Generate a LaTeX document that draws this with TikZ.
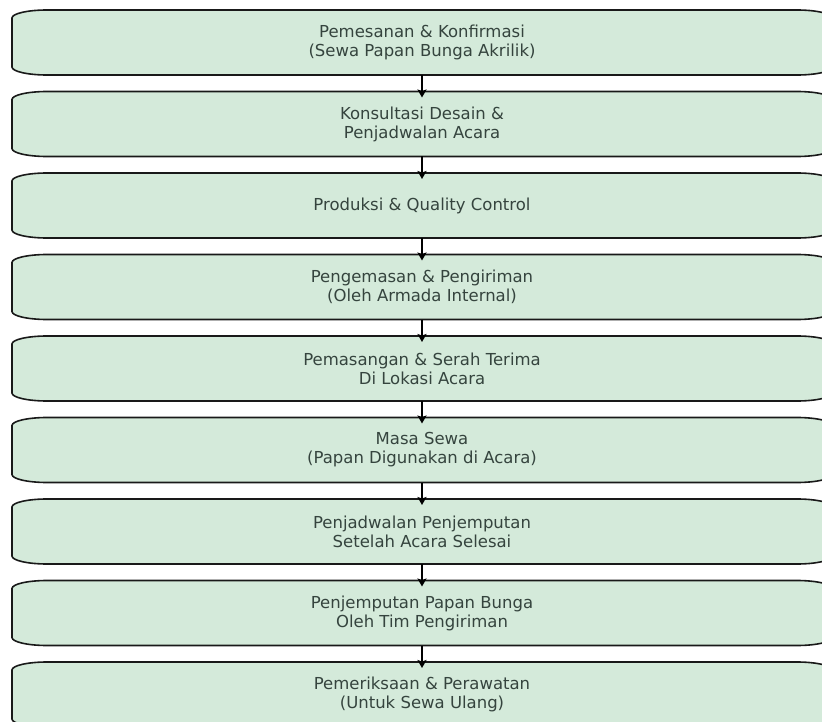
\documentclass[tikz,border=0pt]{standalone}
\usepackage{fontspec}
\setmainfont{DejaVu Sans}
\usetikzlibrary{backgrounds,arrows.meta}
\definecolor{boxfill}{HTML}{D4EADA}
\definecolor{txt}{HTML}{35443E}
\tikzset{
  x=1pt,y=-1pt,
  stepbox/.style={minimum width=820pt,minimum height=65pt,inner sep=0pt,outer sep=0pt,
    align=center,text=txt,font=\fontsize{16.5}{19}\selectfont},
  boxline/.style={draw=black!90,line width=1.6pt,fill=boxfill},
  flow/.style={draw=black,line width=2pt,-{Stealth[length=8pt,width=9pt,inset=1.5pt]}}
}
\newcommand{\roundbox}[1]{%
  \path[boxline] ([xshift=35pt]#1.north west) -- ([xshift=-35pt]#1.north east)
    arc[start angle=90,end angle=0,x radius=35pt,y radius=8pt]
    -- ([yshift=8pt]#1.south east)
    arc[start angle=0,end angle=-90,x radius=35pt,y radius=8pt]
    -- ([xshift=35pt]#1.south west)
    arc[start angle=270,end angle=180,x radius=35pt,y radius=8pt]
    -- ([yshift=-8pt]#1.north west)
    arc[start angle=180,end angle=90,x radius=35pt,y radius=8pt] -- cycle;}
\begin{document}
\begin{tikzpicture}
\useasboundingbox (0,0) rectangle (822,722);
\clip (0,0) rectangle (822,722);
\node[stepbox] (n1) at (422,42.5) {Pemesanan \& Konfirmasi\\(Sewa Papan Bunga Akrilik)};
\node[stepbox] (n2) at (422,124) {Konsultasi Desain \&\\Penjadwalan Acara};
\node[stepbox] (n3) at (422,205.5) {Produksi \& Quality Control};
\node[stepbox] (n4) at (422,287) {Pengemasan \& Pengiriman\\(Oleh Armada Internal)};
\node[stepbox] (n5) at (422,368.5) {Pemasangan \& Serah Terima\\Di Lokasi Acara};
\node[stepbox] (n6) at (422,450) {Masa Sewa\\(Papan Digunakan di Acara)};
\node[stepbox] (n7) at (422,531.5) {Penjadwalan Penjemputan\\Setelah Acara Selesai};
\node[stepbox] (n8) at (422,613) {Penjemputan Papan Bunga\\Oleh Tim Pengiriman};
\node[stepbox] (n9) at (422,694.5) {Pemeriksaan \& Perawatan\\(Untuk Sewa Ulang)};
\begin{pgfonlayer}{background}
\foreach \i in {1,...,9} {\roundbox{n\i}}
\end{pgfonlayer}
\foreach \a/\b in {n1/n2,n2/n3,n3/n4,n4/n5,n5/n6,n6/n7,n7/n8,n8/n9}
  \draw[flow] (\a.south) -- ([yshift=-6pt]\b.north);
\end{tikzpicture}
\end{document}
